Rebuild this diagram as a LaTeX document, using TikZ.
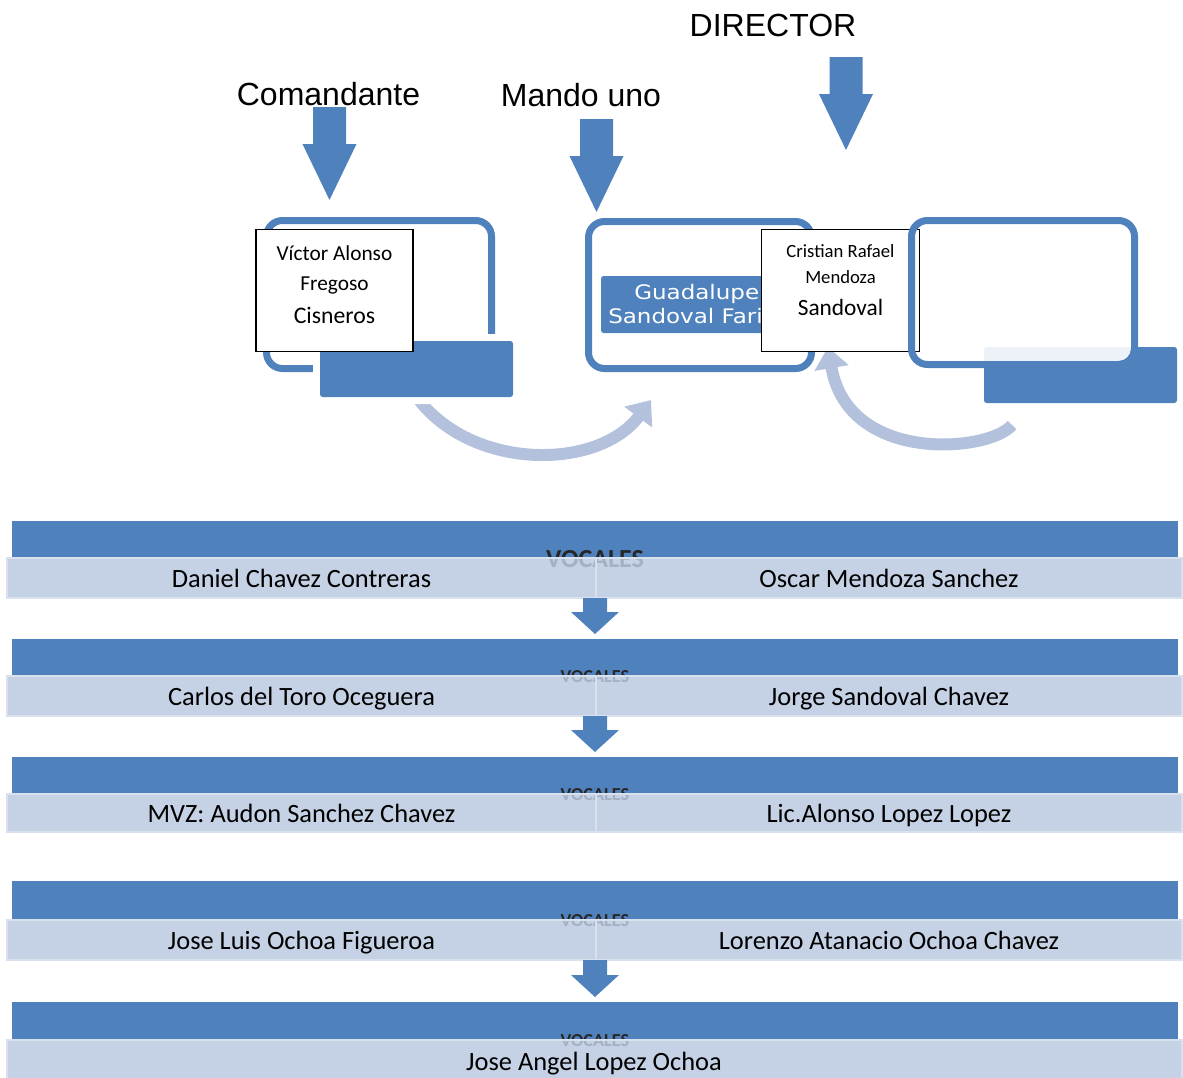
\documentclass[tikz,border=0pt]{standalone}
\usepackage{fontspec}
\setmainfont{Carlito}
\newfontfamily\headfont{Liberation Sans}
\newfontfamily\tabfont{DejaVu Sans}[FakeStretch=1.15]
\usepackage{tikz}
\usetikzlibrary{arrows.meta}
\definecolor{frameblue}{HTML}{4F81BD}
\definecolor{cellblue}{HTML}{BBC9E0}
\definecolor{celledge}{HTML}{D9E1EE}
\definecolor{curveblue}{HTML}{B3C1DD}
\tikzset{frame box/.style={draw=frameblue,line width=5.25pt,rounded corners=12pt},
	solid tab/.style={fill=frameblue,rounded corners=2pt},
	cut tab/.style={solid tab,preaction={draw=white,fill=white,line width=10.5pt}},
	name box/.style={draw=black,line width=1.4pt,fill=white,inner sep=0pt},
	name line/.style={anchor=base,inner sep=0pt,font=\fontsize{16}{18}\selectfont},
	head label/.style={anchor=base,inner sep=0pt,font=\headfont\fontsize{24}{28}\selectfont},
	curve arrow/.style={draw=curveblue,line width=9pt,-{Triangle[width=25pt,length=16pt]}},
	band/.style={fill=frameblue},
	cell/.style={fill=cellblue,fill opacity=0.85,draw=celledge,line width=1.5pt},
	row text/.style={anchor=base,inner sep=0pt,font=\fontsize{19.8}{23}\selectfont},
	vocal/.style={anchor=base,inner sep=0pt,text=black!85},}
% x, top, tip, shaft half, head half, head length
\newcommand{\blockarrow}[6]{\fill[frameblue] (#1-#4,#2) -- (#1+#4,#2) -- (#1+#4,#3-#6) -- (#1+#5,#3-#6) -- (#1,#3) -- (#1-#5,#3-#6) -- (#1-#4,#3-#6) -- cycle;}

\begin{document}
\begin{tikzpicture}[x=0.75pt,y=-0.75pt]
	\useasboundingbox (0,0) rectangle (1183,1078);
	
	\node[head label] (cmd) at (328.5,105) {Comandante};
	\node[head label] (mando) at (581,106) {Mando uno};
	\node[head label] (dir) at (773,36) {DIRECTOR};
	\blockarrow{329.5}{107}{200}{16.5}{27}{56}
	\blockarrow{596.5}{119}{212}{16.5}{27}{56}
	\blockarrow{846}{57}{150}{16.5}{27}{56}
	
	% turning arrows
	\coordinate (turnA) at (416,396);
	\coordinate (turnA tip) at (651,400);
	\coordinate (turnB) at (1012,425);
	\coordinate (turnB tip) at (828,347);
	\draw[curve arrow] (turnA) .. controls (470,471) and (598,471) .. (turnA tip);
	\draw[curve arrow] (turnB) .. controls (990,452) and (848,465) .. (turnB tip);
	
	% first box
	\draw[frame box] (266.5,220.5) rectangle (491.5,368.5);
	\path[cut tab] (320,341) rectangle (513,397);
	\node[name box,minimum width=117.75pt,minimum height=91.5pt] (victor) at (334.5,290.5) {};
	\node[name line] (victor1) at (334.5,260) {Víctor Alonso};
	\node[name line] (victor2) at (334.5,290) {Fregoso};
	\node[name line,font=\fontsize{17.8}{20}\selectfont] (victor3) at (334.5,323) {Cisneros};
	
	% second box
	\draw[frame box] (588.5,221.5) rectangle (811.5,368.5);
	\path[solid tab] (601,276) rectangle (800,333);
	\node[anchor=base west,inner sep=0pt,text=white,font=\tabfont\fontsize{15}{18}\selectfont] (guada1) at (634,299) {Guadalupe};
	\node[anchor=base west,inner sep=0pt,text=white,font=\tabfont\fontsize{15}{18}\selectfont] (guada2) at (608,323) {Sandoval Fari};
	\node[name box,minimum width=118.5pt,minimum height=91.5pt] (cristian) at (840.5,290.5) {};
	\node[name line,font=\fontsize{14}{16}\selectfont] (cristian1) at (840.5,257) {Cristian Rafael};
	\node[name line,font=\fontsize{14}{16}\selectfont] (cristian2) at (840.5,283) {Mendoza};
	\node[name line,font=\fontsize{17.5}{20}\selectfont] (cristian3) at (840.5,315) {Sandoval};
	
	% third box
	\path[solid tab] (984,347) rectangle (1177,403);
	\begin{scope}
		\clip (984,347) rectangle (1177,403);
		\fill[white,fill opacity=0.9,rounded corners=9.4pt] (915,224) rectangle (1131,361);
	\end{scope}
	\draw[frame box] (911.5,220.5) rectangle (1134.5,364.5);
	
	% vocales
	\foreach \n/\ya/\yb/\yc/\vs/\vo/\lname/\rname in {1/521/558/598/19.5/9/{Daniel Chavez Contreras}/{Oscar Mendoza Sanchez},
		2/639/676/716/13.7/6/{Carlos del Toro Oceguera}/{Jorge Sandoval Chavez},
		3/757/794/832/13.7/6/{MVZ: Audon Sanchez Chavez}/{Lic.Alonso Lopez Lopez},
		4/881/920/960/13.7/6/{Jose Luis Ochoa Figueroa}/{Lorenzo Atanacio Ochoa Chavez}}{
		\fill[band] (12,\ya) rectangle (1178,\yb);
		\node[vocal,font=\bfseries\fontsize{\vs}{\vs}\selectfont] (vocal\n) at (595,\yb+\vo) {VOCALES};
		\path[cell] (7,\yb) rectangle (596,\yc);
		\path[cell] (596,\yb) rectangle (1182,\yc);
		\node[row text] (left\n) at (301.5,{(\yb+\yc)/2+9}) {\lname};
		\node[row text] (right\n) at (889,{(\yb+\yc)/2+9}) {\rname};
	}
	\fill[band] (12,1002) rectangle (1178,1040);
	\node[vocal,font=\bfseries\fontsize{13.7}{13.7}\selectfont] (vocal5) at (595,1046) {VOCALES};
	\path[cell] (7,1040) rectangle (1182,1082);
	\node[row text] (single5) at (594,1070) {Jose Angel Lopez Ochoa};
	
	\blockarrow{595}{598}{634}{12}{24}{22}
	\blockarrow{595}{716}{752}{12}{24}{22}
	\blockarrow{595}{960}{997}{12}{24}{22}
\end{tikzpicture}
\end{document}
